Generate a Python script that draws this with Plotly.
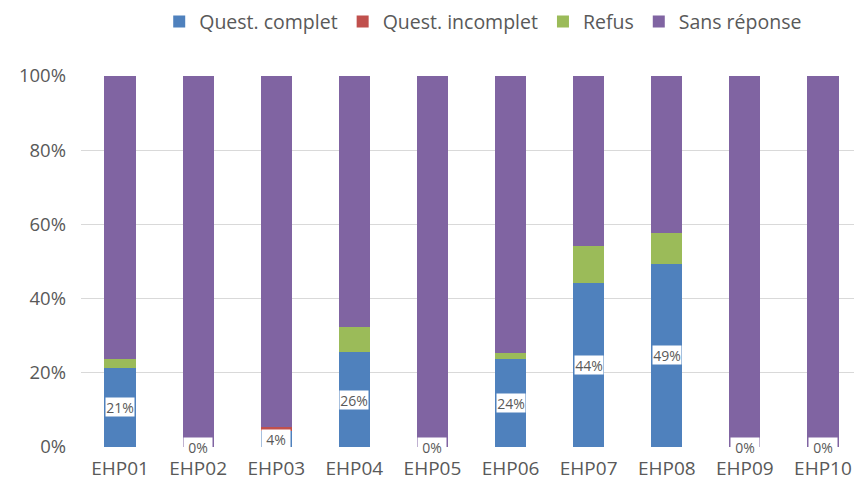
import plotly.graph_objects as go

categories = ["EHP01", "EHP02", "EHP03", "EHP04", "EHP05", "EHP06", "EHP07", "EHP08", "EHP09", "EHP10"]
quest_complet = [21.3, 0, 4.3, 25.6, 0, 23.8, 44.2, 49.4, 0, 0]
quest_incomplet = [0, 0, 1.0, 0, 0, 0, 0, 0, 0, 0]
refus = [2.5, 0, 0, 6.7, 0, 1.6, 10.1, 8.2, 0, 0]
sans_reponse = [round(100 - a - b - c, 1) for a, b, c in zip(quest_complet, quest_incomplet, refus)]

series = [
    ("Quest. complet", quest_complet, "#4f81bd"),
    ("Quest. incomplet", quest_incomplet, "#c0504d"),
    ("Refus", refus, "#9bbb59"),
    ("Sans réponse", sans_reponse, "#8064a2"),
]

fig = go.Figure()
for name, vals, color in series:
    fig.add_trace(go.Bar(
        x=categories, y=vals, name=name,
        marker=dict(color=color, line=dict(width=0)),
    ))

for cat, v in zip(categories, quest_complet):
    fig.add_annotation(
        x=cat, y=v / 2, text=f"{round(v)}%", showarrow=False,
        bgcolor="white", borderpad=0, width=28, height=18,
        font=dict(family="Open Sans, sans-serif", size=14, color="#595959"),
    )

fig.update_layout(
    barmode="stack",
    bargap=0.6,
    width=854, height=473,
    margin=dict(l=73, r=0, t=68, b=34, autoexpand=False),
    paper_bgcolor="white", plot_bgcolor="white",
    font=dict(family="Open Sans, sans-serif", color="#595959", size=18),
    legend=dict(orientation="h", x=0.515, xanchor="center", y=1.146, yanchor="middle",
                font=dict(size=19.5, color="#595959"), itemwidth=30, traceorder="normal"),
    xaxis=dict(showgrid=False, showline=False, ticks="", tickfont=dict(size=19),
               ticklabelstandoff=8),
    yaxis=dict(range=[0, 100], dtick=20, ticksuffix="%", showgrid=True, gridcolor="#d9d9d9",
               gridwidth=1, zeroline=False, showline=False, ticks="", tickfont=dict(size=18.5),
               ticklabelstandoff=14),
)

fig.write_html("out.html")
